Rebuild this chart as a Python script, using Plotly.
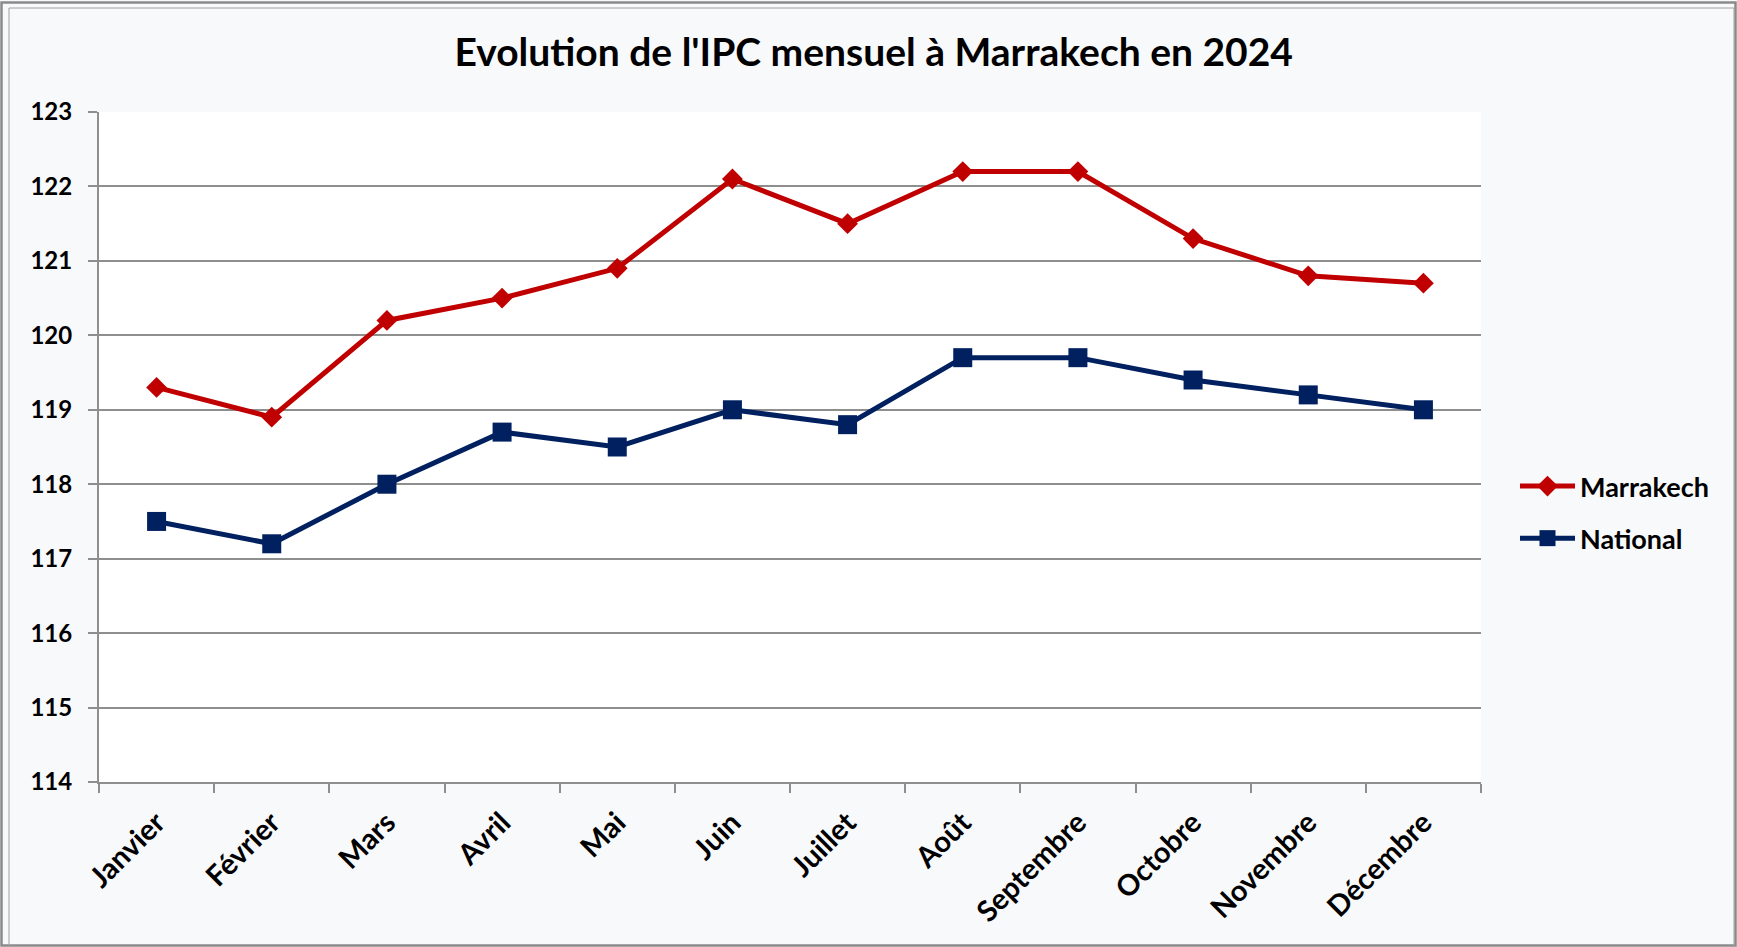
import plotly.graph_objects as go

months = ["Janvier", "Février", "Mars", "Avril", "Mai", "Juin", "Juillet",
          "Août", "Septembre", "Octobre", "Novembre", "Décembre"]
marrakech = [119.3, 118.9, 120.2, 120.5, 120.9, 122.1, 121.5, 122.2, 122.2, 121.3, 120.8, 120.7]
national = [117.5, 117.2, 118.0, 118.7, 118.5, 119.0, 118.8, 119.7, 119.7, 119.4, 119.2, 119.0]
y_ticks = list(range(114, 124))

W, H = 1737, 947
L, R, T, B = 99, 1481, 112, 782  # plot area pixel edges
FONT = "Lato"

fig = go.Figure()
fig.add_trace(go.Scatter(
    x=months, y=marrakech, name="<b>Marrakech</b>", mode="lines+markers",
    line=dict(color="#C00000", width=5),
    marker=dict(symbol="diamond", size=16, color="#C00000"),
    legendgroup="a",
))
fig.add_trace(go.Scatter(
    x=months, y=national, name="<b>National</b>", mode="lines+markers",
    line=dict(color="#002060", width=5),
    marker=dict(symbol="square", size=19, color="#002060"),
    legendgroup="b",
))

def px_x(p):
    return (p - L) / (R - L)

def px_y(p):
    return (B - p) / (B - T)

shapes = [
    dict(type="rect", xref="paper", yref="paper",
         x0=px_x(1.5), x1=px_x(1735.5), y0=px_y(945.5), y1=px_y(2.5),
         line=dict(color="#8A8A8A", width=2.5), layer="below"),
    dict(type="rect", xref="paper", yref="paper",
         x0=px_x(9), x1=px_x(1734), y0=px_y(950), y1=px_y(8),
         line=dict(color="#A0A0A0", width=1), layer="below"),
]

fig.update_layout(
    width=W, height=H,
    margin=dict(l=L, r=W - R, t=T, b=H - B),
    paper_bgcolor="#F8F9FB",
    plot_bgcolor="#FFFFFF",
    font=dict(family=FONT, color="#000000"),
    title=dict(text="<b>Evolution de l'IPC mensuel à Marrakech en 2024</b>",
               x=0.503, xanchor="center", y=1 - 52 / H, yanchor="middle",
               font=dict(size=39, family=FONT, color="#000000")),
    xaxis=dict(
        type="category", categoryorder="array", categoryarray=months,
        tickmode="array", tickvals=months,
        ticktext=[f"<b>{m}</b>" for m in months],
        tickangle=-45, tickfont=dict(size=29, family=FONT),
        showgrid=False, showline=True, linecolor="#8E8E8E", linewidth=2,
        ticks="outside", tickson="boundaries", ticklen=9, tickcolor="#8E8E8E", tickwidth=2,
        ticklabelstandoff=10,
        range=[-0.5, 11.5], zeroline=False,
    ),
    yaxis=dict(
        range=[114, 123], tickmode="array", tickvals=y_ticks,
        ticktext=[f"<b>{v}</b>" for v in y_ticks],
        tickfont=dict(size=24, family=FONT),
        showgrid=True, gridcolor="#8E8E8E", gridwidth=2,
        showline=True, linecolor="#8E8E8E", linewidth=2,
        ticks="outside", ticklen=9, tickcolor="#8E8E8E", tickwidth=2,
        ticklabelstandoff=11,
        zeroline=False,
    ),
    legend=dict(
        x=px_x(1515), xanchor="left", y=px_y(462), yanchor="top",
        font=dict(size=27, family=FONT, color="#000000"),
        bgcolor="rgba(0,0,0,0)", tracegroupgap=14, itemwidth=55,
    ),
    shapes=shapes,
    showlegend=True,
)

fig.write_html("out.html", config={"displayModeBar": False},
               post_script="document.body.style.margin='0';document.body.style.overflow='hidden';")
